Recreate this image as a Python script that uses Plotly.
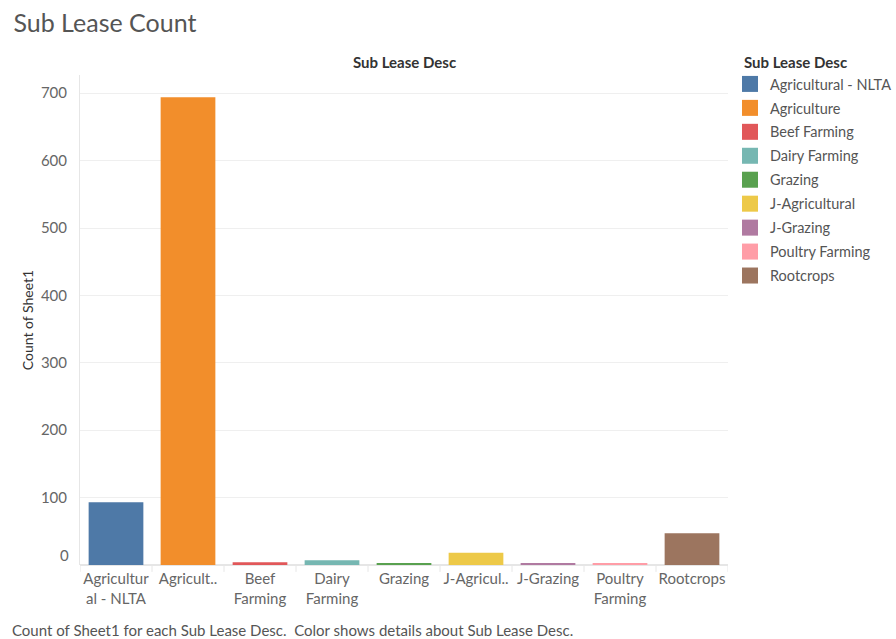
import plotly.graph_objects as go

# Sub lease categories, their record counts and colours
categories = ["Agricultural - NLTA", "Agriculture", "Beef Farming", "Dairy Farming",
              "Grazing", "J-Agricultural", "J-Grazing", "Poultry Farming", "Rootcrops"]
counts = [93, 694, 4, 7, 2, 18, 2, 2, 47]
colors = ["#4e79a7", "#f28e2b", "#e15759", "#76b7b2", "#59a14f",
          "#edc948", "#b07aa1", "#ff9da7", "#9c755f"]
tick_text = ["Agricultur<br>al - NLTA", "Agricult..", "Beef<br>Farming", "Dairy<br>Farming",
             "Grazing", "J-Agricul..", "J-Grazing", "Poultry<br>Farming", "Rootcrops"]
y_ticks = [0, 100, 200, 300, 400, 500, 600, 700]

FONT = "Lato"
TICK_GREY = "#666666"

# Plot-area geometry in pixels (used to place the paper-anchored labels)
W, H = 896, 639
L, R, T, B = 80, 168, 75, 74
PW, PH = W - L - R, H - T - B


def px_x(px):
    return (px - L) / PW


def px_y(py):
    return 1 - (py - T) / PH


fig = go.Figure()

# Bars, one trace per category so each gets its own colour
for cat, val, col in zip(categories, counts, colors):
    fig.add_trace(go.Bar(
        x=[cat], y=[val], marker=dict(color=col, line=dict(width=0)),
        width=0.76, showlegend=False, hovertemplate="%{x}: %{y}<extra></extra>",
    ))

# Legend entries drawn as square markers
for cat, col in zip(categories, colors):
    fig.add_trace(go.Scatter(
        x=[None], y=[None], mode="markers", name=cat, legendgroup=cat,
        marker=dict(symbol="square", size=16, color=col),
    ))

# Column dividers in the header band below the baseline
for i in range(len(categories) + 1):
    fig.add_shape(type="line", xref="x", yref="paper",
                  x0=i - 0.5, x1=i - 0.5, y0=0, y1=-0.014,
                  line=dict(color="#e6e6e6", width=1))

# The lowest y label sits just above the baseline
y_text = ["" if v == 0 else str(v) for v in y_ticks]

fig.update_layout(
    width=W, height=H,
    margin=dict(l=L, r=R, t=T, b=B, autoexpand=False),
    paper_bgcolor="white", plot_bgcolor="white",
    font=dict(family=FONT, color=TICK_GREY, size=15),
    bargap=0.24,
    title=dict(text="Sub Lease Count", x=0.015, xanchor="left", y=0.963, yanchor="middle",
               font=dict(family=FONT, size=25, color="#555555")),
    xaxis=dict(
        type="category", categoryorder="array", categoryarray=categories,
        tickvals=categories, ticktext=tick_text, ticks="", showgrid=False,
        showline=False, zeroline=False, range=[-0.5, len(categories) - 0.5],
        tickfont=dict(size=15, color=TICK_GREY), ticklabelstandoff=3,
    ),
    yaxis=dict(
        range=[0, 727], tickvals=y_ticks, ticktext=y_text, showgrid=True,
        gridcolor="#efefef", gridwidth=1, zeroline=True, zerolinecolor="#e6e6e6",
        showline=True, linecolor="#e6e6e6", ticks="", ticklabelstandoff=9,
        tickfont=dict(size=15, color=TICK_GREY),
        title=dict(text="Count of Sheet1", standoff=3,
                   font=dict(size=14, color="#333333", family=FONT)),
    ),
    legend=dict(
        x=px_x(730), y=px_y(68), xanchor="left", yanchor="top",
        font=dict(size=14.5, color="#555555"), tracegroupgap=2.1,
        itemsizing="trace", bgcolor="rgba(0,0,0,0)",
    ),
    annotations=[
        dict(text="0", xref="paper", yref="y", x=0, y=0, xshift=-9, yshift=10,
             xanchor="right", yanchor="middle", showarrow=False,
             font=dict(size=15, color=TICK_GREY, family=FONT)),
        dict(text="<b>Sub Lease Desc</b>", xref="paper", yref="paper", x=0.5, y=px_y(62),
             xanchor="center", yanchor="middle", showarrow=False,
             font=dict(size=15, color="#333333", family=FONT)),
        dict(text="<b>Sub Lease Desc</b>", xref="paper", yref="paper", x=px_x(742),
             y=px_y(62), xanchor="left", yanchor="middle", showarrow=False,
             font=dict(size=15, color="#333333", family=FONT)),
        dict(text="Count of Sheet1 for each Sub Lease Desc.  Color shows details about Sub Lease Desc.",
             xref="paper", yref="paper", x=px_x(10), y=px_y(630), xanchor="left",
             yanchor="middle", showarrow=False,
             font=dict(size=15, color="#555555", family=FONT)),
    ],
)

fig.write_html("out.html")
